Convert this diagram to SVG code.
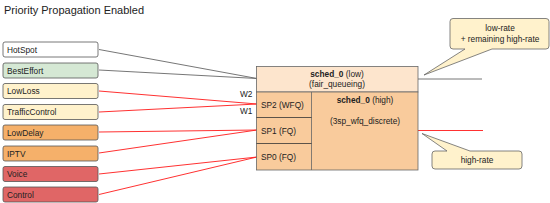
<svg xmlns="http://www.w3.org/2000/svg" width="550" height="203" viewBox="0 0 550 203">
<style>
text{font-family:"Liberation Sans",Arial,sans-serif;font-size:8.3px;fill:#222}
.q rect{stroke:#555;stroke-width:0.8}
.g{stroke:#666;stroke-width:0.9;fill:none}
.r{stroke:#ff1a1a;stroke-width:0.9;fill:none}
.b{font-weight:bold}
.call{fill:#fff2cc;stroke:#666;stroke-width:0.8}
</style>
<rect width="550" height="203" fill="#fff"/>
<text x="4" y="14" style="font-size:11px">Priority Propagation Enabled</text>
<g id="connectors">
<line class="g" x1="99" y1="49.5" x2="257" y2="78.5"/>
<line class="g" x1="99" y1="70" x2="257" y2="78.5"/>
<line class="r" x1="99" y1="91" x2="257" y2="104"/>
<line class="r" x1="99" y1="112" x2="257" y2="104"/>
<line class="r" x1="99" y1="132" x2="257" y2="130"/>
<line class="r" x1="99" y1="153" x2="257" y2="130"/>
<line class="r" x1="99" y1="174" x2="257" y2="157"/>
<line class="r" x1="99" y1="194.5" x2="257" y2="157"/>
<line class="g" x1="418" y1="79" x2="482" y2="79"/>
<line class="r" x1="418" y1="130.5" x2="483" y2="130.5"/>
</g>
<g id="HotSpot" class="q"><rect x="3" y="42" width="95" height="15" rx="2" fill="#ffffff"/><text x="7" y="52.5">HotSpot</text></g>
<g id="BestEffort" class="q"><rect x="3" y="63" width="95" height="15" rx="2" fill="#d5e8d4"/><text x="7" y="73.5">BestEffort</text></g>
<g id="LowLoss" class="q"><rect x="3" y="83.5" width="95" height="15" rx="2" fill="#fff2cc"/><text x="7" y="94">LowLoss</text></g>
<g id="TrafficControl" class="q"><rect x="3" y="104.5" width="95" height="15" rx="2" fill="#fff2cc"/><text x="7" y="115">TrafficControl</text></g>
<g id="LowDelay" class="q"><rect x="3" y="125" width="95" height="15" rx="2" fill="#f5b06a"/><text x="7" y="135.5">LowDelay</text></g>
<g id="IPTV" class="q"><rect x="3" y="146" width="95" height="15" rx="2" fill="#f5b06a"/><text x="7" y="156.5">IPTV</text></g>
<g id="Voice" class="q"><rect x="3" y="166.5" width="95" height="15" rx="2" fill="#e06666"/><text x="7" y="177">Voice</text></g>
<g id="Control" class="q"><rect x="3" y="187" width="95" height="15" rx="2" fill="#e06666"/><text x="7" y="197.5">Control</text></g>
<g id="sched_low">
<rect x="256.5" y="66.5" width="161.5" height="25.5" fill="#fde5cd" stroke="#666" stroke-width="0.8"/>
<text x="337" y="76.5" text-anchor="middle"><tspan class="b">sched_0</tspan> (low)</text>
<text x="337" y="86.5" text-anchor="middle">(fair_queueing)</text>
</g>
<g id="sched_high">
<rect x="256.5" y="92" width="161.5" height="78" fill="#f9cb9c" stroke="#666" stroke-width="0.8"/>
<line x1="311.5" y1="92" x2="311.5" y2="170" stroke="#666" stroke-width="0.8"/>
<text x="365" y="103" text-anchor="middle"><tspan class="b">sched_0</tspan> (high)</text>
<text x="365" y="124" text-anchor="middle">(3sp_wfq_discrete)</text>
</g>
<g id="SP2"><text x="261" y="108">SP2 (WFQ)</text></g>
<g id="SP1"><line x1="256.5" y1="117.5" x2="311.5" y2="117.5" stroke="#333" stroke-width="0.8"/><text x="261" y="133.5">SP1 (FQ)</text></g>
<g id="SP0"><line x1="256.5" y1="143.5" x2="311.5" y2="143.5" stroke="#333" stroke-width="0.8"/><text x="261" y="160">SP0 (FQ)</text></g>
<text x="240" y="97">W2</text>
<text x="240" y="113.5">W1</text>
<g id="callout_low">
<path class="call" d="M453,18.5 H546 Q549,18.5 549,21.5 V46 Q549,49 546,49 H492 L424,75 L465,49 H453 Q450,49 450,46 V21.5 Q450,18.5 453,18.5 Z"/>
<text x="500" y="31" text-anchor="middle">low-rate</text>
<text x="500" y="42" text-anchor="middle">+ remaining high-rate</text>
</g>
<g id="callout_high">
<path class="call" d="M435,151 H447 L422,133.5 L470,151 H519 Q522,151 522,154 V166 Q522,169 519,169 H435 Q432,169 432,166 V154 Q432,151 435,151 Z"/>
<text x="477" y="163" text-anchor="middle">high-rate</text>
</g>
</svg>
